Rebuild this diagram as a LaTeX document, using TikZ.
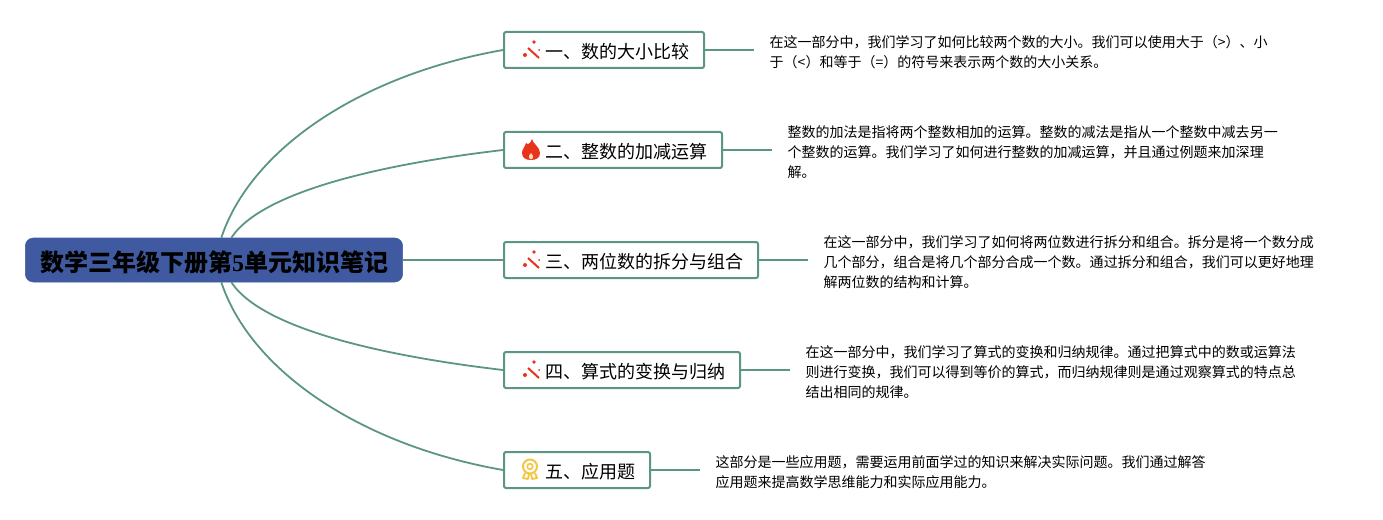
\documentclass[tikz,border=0pt]{standalone}
\usepackage{fontspec}
\setmainfont{Noto Sans CJK SC}
\newfontfamily\digitfont{Liberation Serif}
\usetikzlibrary{positioning}
\definecolor{branchgreen}{HTML}{5B9583}
\definecolor{rootblue}{HTML}{3F5AA0}
\definecolor{iconred}{HTML}{E8341C}
\definecolor{icongold}{HTML}{F7C544}
\tikzset{
  root/.style={fill=rootblue, draw=rootblue, rounded corners=6pt, minimum width=283pt, minimum height=33pt, inner sep=0pt, text height=18.4pt, text depth=1.8pt, font=\fontsize{18}{18}\bfseries},
  topic/.style={draw=branchgreen, line width=1.5pt, fill=white, rounded corners=1.5pt, minimum height=27pt, inner xsep=0pt, inner ysep=0pt, anchor=west, text height=14.5pt, text depth=1.3pt, font=\fontsize{13.5}{16}\selectfont, execute at begin node=\hspace*{31pt}, execute at end node=\hspace*{11pt}},
  note/.style={align=left, inner xsep=11.6pt, inner ysep=0pt, yshift=-1.6pt, font=\fontsize{10.5}{15}\selectfont},
  branch/.style={draw=branchgreen, line width=1.35pt},
  wand/.pic={
    \draw[iconred, line width=1.5pt] (-3,-2) -- (8,8);
    \fill[iconred] (-6,5) circle (2);
    \fill[iconred] (3,-8) circle (1.8);
    \fill[iconred] (8,0) circle (1);
  },
  flame/.pic={
    \fill[iconred] (1,-11) .. controls (2,-6) and (9,-3) .. (9,3) .. controls (9,8) and (5,10) .. (0,10) .. controls (-5,10) and (-9,8) .. (-9,3) .. controls (-9,-1) and (-6,-3) .. (-5,-7) .. controls (-3,-5) and (-1,-6) .. (1,-11) -- cycle;
    \fill[white!70!orange] (0,3) .. controls (1,5) and (3,6) .. (2,8) .. controls (1,10) and (-1,10) .. (-2,8) .. controls (-3,6) and (-1,5) .. (0,3) -- cycle;
  },
  medal/.pic={
    \draw[icongold, line width=1.5pt] (-1,-3.5) circle (7);
    \draw[icongold, line width=1.2pt] (-1,-3.5) circle (2.8);
    \draw[icongold, line width=1.4pt, line join=round] (-6,3) -- (-8,8) -- (-3,9) -- (-2,4);
    \draw[icongold, line width=1.4pt, line join=round] (4,3) -- (6,8) -- (1,9) -- (0,4);
  },
}
\begin{document}
\begin{tikzpicture}[x=0.75pt, y=-0.75pt, node distance=36.75pt]
  \useasboundingbox (0,0) rectangle (1383,520);

  % Root
  \node[root] (root) at (214,260) {数学三年级下册第{\digitfont\bfseries 5}单元知识笔记};

  % Topics
  \node[topic] (topic1) at (503,50) {一、数的大小比较};
  \node[topic] (topic2) at (503,150) {二、整数的加减运算};
  \node[topic] (topic3) at (503,260) {三、两位数的拆分与组合};
  \node[topic] (topic4) at (503,370) {四、算式的变换与归纳};
  \node[topic] (topic5) at (503,470) {五、应用题};

  % Icons
  \pic at ([xshift=21pt]topic1.west) {wand};
  \pic at ([xshift=21pt]topic2.west) {flame};
  \pic at ([xshift=21pt]topic3.west) {wand};
  \pic at ([xshift=21pt]topic4.west) {wand};
  \pic at ([xshift=21pt]topic5.west) {medal};

  % Notes
  \node[note, right=of topic1] (note1) {在这一部分中，我们学习了如何比较两个数的大小。我们可以使用大于（>）、小\\于（<）和等于（=）的符号来表示两个数的大小关系。};
  \node[note, right=of topic2] (note2) {整数的加法是指将两个整数相加的运算。整数的减法是指从一个整数中减去另一\\个整数的运算。我们学习了如何进行整数的加减运算，并且通过例题来加深理\\解。};
  \node[note, right=of topic3] (note3) {在这一部分中，我们学习了如何将两位数进行拆分和组合。拆分是将一个数分成\\几个部分，组合是将几个部分合成一个数。通过拆分和组合，我们可以更好地理\\解两位数的结构和计算。};
  \node[note, right=of topic4] (note4) {在这一部分中，我们学习了算式的变换和归纳规律。通过把算式中的数或运算法\\则进行变换，我们可以得到等价的算式，而归纳规律则是通过观察算式的特点总\\结出相同的规律。};
  \node[note, right=of topic5] (note5) {这部分是一些应用题，需要运用前面学过的知识来解决实际问题。我们通过解答\\应用题来提高数学思维能力和实际应用能力。};

  % Branches
  \draw[branch] ([xshift=5.5pt]root.north) .. controls +(29,-88) and +(-143,25) .. (topic1.west);
  \draw[branch] ([xshift=13pt]root.north) .. controls +(33,-50) and +(-103,12) .. (topic2.west);
  \draw[branch] (root.east) -- (topic3.west);
  \draw[branch] ([xshift=13pt]root.south) .. controls +(33,50) and +(-103,-12) .. (topic4.west);
  \draw[branch] ([xshift=5.5pt]root.south) .. controls +(29,88) and +(-143,-25) .. (topic5.west);

  % Leaders
  \foreach \n in {1,...,5}
    \draw[branch] (topic\n.east) -- (topic\n.east -| note\n.west);
\end{tikzpicture}
\end{document}
